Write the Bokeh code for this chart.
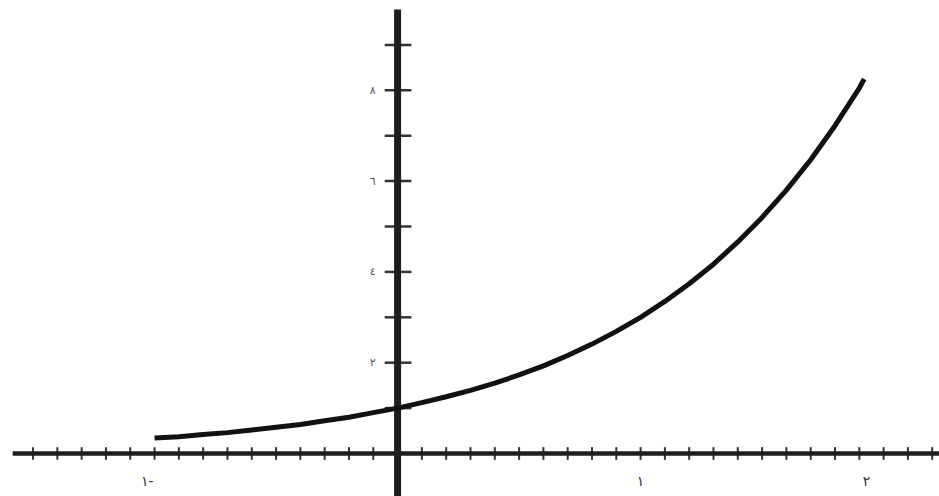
from bokeh.plotting import figure
from bokeh.models import Range1d
from bokeh.core.properties import value
from bokeh.embed import file_html
from bokeh.resources import INLINE

# curve (x, y)
curve_x = [-1.0, -0.9, -0.8, -0.7, -0.6, -0.5, -0.4, -0.3, -0.2, -0.1, 0.0,
           0.1, 0.2, 0.3, 0.4, 0.5, 0.6, 0.7, 0.8, 0.9, 1.0,
           1.1, 1.2, 1.3, 1.4, 1.5, 1.6, 1.7, 1.8, 1.9, 1.92]
curve_y = [0.34, 0.37, 0.42, 0.46, 0.52, 0.58, 0.64, 0.72, 0.80, 0.90, 1.0,
           1.12, 1.25, 1.39, 1.55, 1.73, 1.93, 2.16, 2.41, 2.69, 3.0,
           3.35, 3.74, 4.17, 4.66, 5.2, 5.8, 6.47, 7.22, 8.05, 8.25]

# axis ticks
x_ticks = [round(-1.5 + 0.1 * i, 2) for i in range(38)]
y_ticks = [1, 2, 3, 4, 5, 6, 7, 8, 9]
y_label_pos = [2, 4, 6, 8]
y_labels = ["٢", "٤", "٦", "٨"]
x_label_pos = [-1.03, 1.0, 1.93]
x_labels = ["١-", "١", "٢"]

p = figure(width=939, height=496, output_backend="svg", toolbar_location=None,
           x_range=Range1d(-1.634, 2.230), y_range=Range1d(-0.947, 9.978),
           min_border=0, outline_line_color=None)
p.axis.visible = False
p.grid.visible = False
p.background_fill_color = "white"

ink = "#1e1e1e"

# x tick marks
xt = [t for t in x_ticks if abs(t) > 1e-9]
p.segment(x0=xt, x1=xt, y0=[-0.14] * len(xt), y1=[0.14] * len(xt),
          line_color="#333333", line_width=2)
# y tick marks
p.segment(x0=[-0.053] * len(y_ticks), x1=[0.057] * len(y_ticks), y0=y_ticks, y1=y_ticks,
          line_color="#333333", line_width=2.5)

# axes lines
p.segment(x0=[-1.584], x1=[2.3], y0=[0], y1=[0], line_color=ink, line_width=4.5)
p.segment(x0=[0], x1=[0], y0=[-1.2], y1=[9.78], line_color=ink, line_width=7)

# curve
p.line(curve_x, curve_y, line_color="#111111", line_width=5, line_join="round")

# labels
p.text(x=[0] * len(y_labels), y=y_label_pos, text=y_labels, x_offset=-22,
       text_font=value("DejaVu Sans"), text_font_size="11px", text_color="#555555",
       text_align="right", text_baseline="middle")
p.text(x=x_label_pos, y=[0] * len(x_labels), text=x_labels, y_offset=27,
       text_font=value("DejaVu Sans"), text_font_size="14px", text_color="#333333",
       text_align="center", text_baseline="middle")

open("out.html", "w").write(file_html(p, INLINE))
